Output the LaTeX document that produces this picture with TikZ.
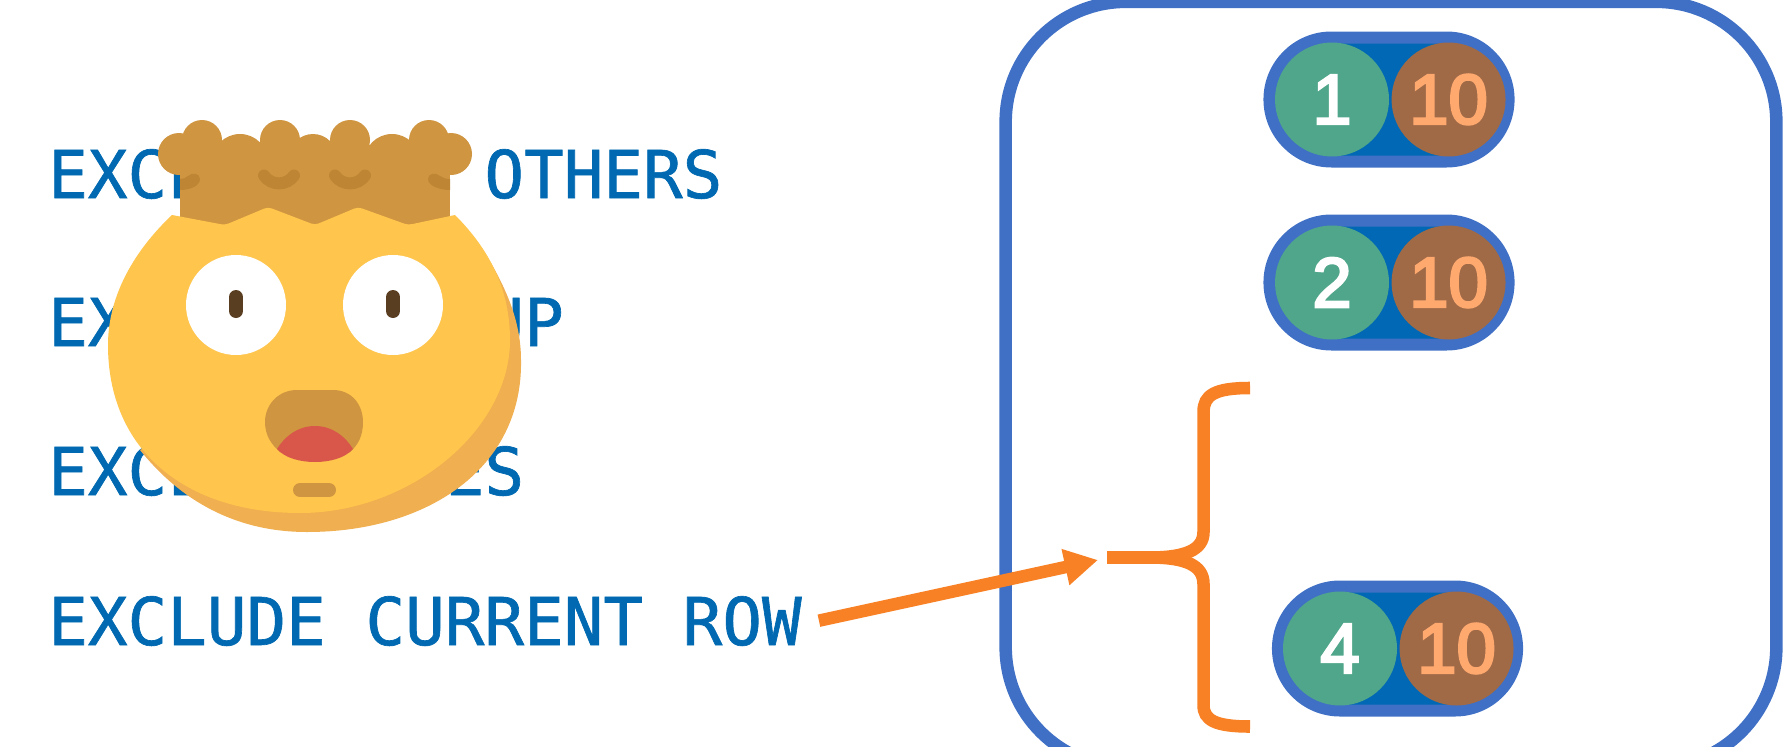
\documentclass[tikz,border=0pt]{standalone}
\usepackage{fontspec}
\usepackage{xcolor}
\usepackage{tikz}
\usetikzlibrary{shapes.misc}
\usetikzlibrary{arrows.meta}
\usetikzlibrary{positioning}
\newfontfamily\rowfont[FakeBold=1]{DejaVu Sans Mono}
\newfontfamily\numfont[FakeBold=3.5]{Liberation Sans}
\definecolor{rowblue}{HTML}{0069B1}
\definecolor{framblue}{HTML}{3F70C5}
\definecolor{pillblue}{HTML}{0068B4}
\definecolor{idgreen}{HTML}{50A68A}
\definecolor{valbrown}{HTML}{A06A47}
\definecolor{valtext}{HTML}{FFA96F}
\definecolor{markorange}{HTML}{F98125}
\definecolor{hairtan}{HTML}{CF9540}
\definecolor{hairdark}{HTML}{BE8535}
\definecolor{faceyellow}{HTML}{FFC54D}
\definecolor{faceshade}{HTML}{F0AF50}
\definecolor{pupilbrown}{HTML}{5A3E22}
\definecolor{tonguered}{HTML}{D8574A}
\tikzset{
	row node/.style={anchor=base west,inner sep=0pt,text=rowblue,font=\rowfont\fontsize{49.4}{58}\selectfont},
	frame node/.style={draw=framblue,line width=9.4pt,rounded corners=90pt,minimum width=578pt,minimum height=574pt},
	pill node/.style={rounded rectangle,draw=framblue,fill=pillblue,line width=9pt,minimum width=186pt,minimum height=93pt},
	id node/.style={circle,fill=idgreen,inner sep=0pt,minimum size=85.5pt,text=white,font=\numfont\fontsize{53}{60}\selectfont},
	val node/.style={circle,fill=valbrown,inner sep=0pt,minimum size=85.5pt,text=valtext,font=\numfont\fontsize{53}{60}\selectfont},
	mark line/.style={draw=markorange,line width=9.4pt},
	pupil/.style={pupilbrown,line width=10.5pt,line cap=round},
	crease/.style={hairdark,line width=9pt,line cap=round}
}
\begin{document}
\begin{tikzpicture}[x=0.75pt,y=-0.75pt]
	\useasboundingbox (0,0) rectangle (1791,746);
	\node [row node] (row1) at (48,198) {EXCLUDE NO OTHERS};
	\node [row node] (row2) at (48,346) {EXCLUDE GROUP};
	\node [row node] (row3) at (48,495) {EXCLUDE TIES};
	\node [row node] (row4) at (48,645) {EXCLUDE CURRENT ROW};

	\node [frame node] (frame) at (1391,384.5) {};

	\node [pill node] (pill1) at (1389,99.5) {};
	\node [id node] (id1) at (1332,99.5) {1};
	\node [val node,right=1.5pt of id1] (val1) {10};
	\node [pill node] (pill2) at (1389,282.5) {};
	\node [id node] (id2) at (1332,282.5) {2};
	\node [val node,right=1.5pt of id2] (val2) {10};
	\node [pill node] (pill4) at (1397.5,648.5) {};
	\node [id node] (id4) at (1340,648.5) {4};
	\node [val node,right=1.5pt of id4] (val4) {10};

	\coordinate (bracetop) at (1250,388);
	\coordinate (bracestem) at (1107,557.5);
	\coordinate (bracebot) at (1250,726.5);
	\coordinate (arrowtip) at (1098,560);
	\draw [mark line] (bracetop) .. controls (1215,388) and (1203.5,395) .. (1203.5,412) -- (1203.5,532)
		.. controls (1203.5,550) and (1185,557.5) .. (1150,557.5) -- (bracestem);
	\draw [mark line] (bracestem) -- (1150,557.5) .. controls (1185,557.5) and (1203.5,565) .. (1203.5,584)
		-- (1203.5,705) .. controls (1203.5,720) and (1215,726.5) .. (bracebot);
	\draw [mark line,-{Triangle[length=25pt,width=26pt]},shorten <=13pt] ([yshift=-2.5pt]row4.east) -- (arrowtip);

	\fill [faceshade] (482,248) .. controls (505,285) and (521,320) .. (521,360) .. controls (523,468) and (428,532) .. (307,532)
		.. controls (235,532) and (180,500) .. (140,450) -- cycle;
	\fill [hairtan] (180,150) rectangle (450,228);
	\fill [hairtan] (202,140) circle (20) (280,140) circle (20) (350,140) circle (20) (429,140) circle (20)
		(179,154) circle (21) (451,154) circle (21)
		(240,162) circle (28) (313,158) circle (24) (392,162) circle (28);
	\fill [hairdark] (180,190) .. controls (190,190) and (200,186) .. (200,179) .. controls (200,173) and (192,172) .. (188,176)
		.. controls (186,178) and (183,179) .. (180,179) -- cycle;
	\fill [hairdark] (450,190) .. controls (440,190) and (428,186) .. (428,179) .. controls (428,173) and (436,172) .. (440,176)
		.. controls (443,178) and (446,179) .. (450,179) -- cycle;
	\draw [crease] (264,175.5) .. controls (271,186) and (287,186) .. (294,175.5);
	\draw [crease] (335,175.5) .. controls (342,186) and (358,186) .. (365,175.5);
	\fill [faceyellow] (172,215) .. controls (135,250) and (108,295) .. (108,345) .. controls (108,450) and (185,513) .. (300,513)
		.. controls (410,513) and (510,430) .. (510,340) .. controls (510,290) and (490,250) .. (455,215)
		[rounded corners=3pt] -- (408,225) -- (358,207) -- (315,225) -- (268,207) -- (225,225) [sharp corners] -- cycle;
	\fill [white] (236,305) circle (50) (393,305) circle (50);
	\draw [pupil] (236,297) -- (236,311);
	\draw [pupil] (393,297) -- (393,311);
	\fill [hairtan] (297,390) -- (333,390) .. controls (352,390) and (363,405) .. (363,422) .. controls (363,436) and (358,445) .. (350,452)
		-- (280,452) .. controls (272,445) and (265,436) .. (265,422) .. controls (265,405) and (278,390) .. (297,390) -- cycle;
	\fill [tonguered] (277,449) .. controls (285,436) and (298,426) .. (315,426) .. controls (332,426) and (345,436) .. (353,449)
		.. controls (345,458) and (330,462) .. (315,462) .. controls (300,462) and (285,458) .. (277,449) -- cycle;
	\draw [hairtan,line width=10.5pt,line cap=round] (300,490) -- (329,490);
\end{tikzpicture}
\end{document}
